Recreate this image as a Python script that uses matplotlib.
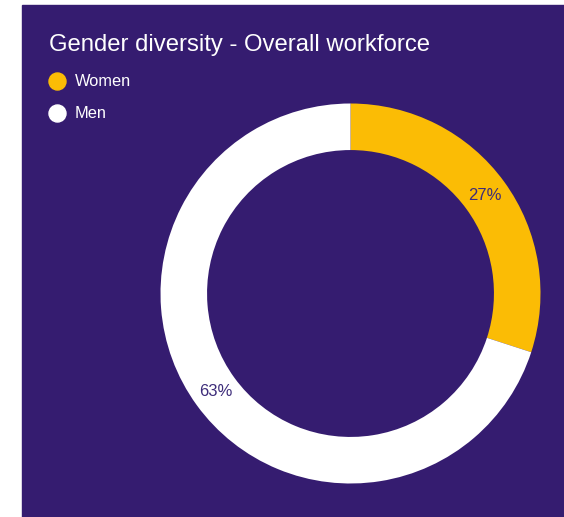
import matplotlib.pyplot as plt
from matplotlib.patches import Rectangle

plt.rcParams['font.family'] = ['Liberation Sans', 'DejaVu Sans']

title = 'Gender diversity - Overall workforce'
categories = ['Women', 'Men']
values = [27, 63]
colors = ['#FBBC05', '#FFFFFF']
bg = '#351C70'
label_color = '#3D2C7A'

W, H = 564, 517
fig = plt.figure(figsize=(W / 100, H / 100), dpi=100, facecolor='white')

# background layer in pixel coords
bgax = fig.add_axes([0, 0, 1, 1])
bgax.set_xlim(0, W)
bgax.set_ylim(H, 0)
bgax.axis('off')
bgax.add_patch(Rectangle((22, 5), W - 22, H - 5, color=bg, zorder=0))
bgax.text(49, 45, title, color='white', fontsize=17.2, va='center', ha='left')
for i, (cat, col) in enumerate(zip(categories, colors)):
    y = 81 + i * 32
    bgax.scatter([57], [y], s=150, color=col, zorder=3)
    bgax.text(75, y, cat, color='white', fontsize=11.8, va='center', ha='left')

# donut
cx, cy, r = 350.5, 293.5, 190
ax = fig.add_axes([(cx - r) / W, (H - cy - r) / H, 2 * r / W, 2 * r / H])
total = sum(values)
wedges, texts, autotexts = ax.pie(
    values, colors=colors, startangle=90, counterclock=False,
    radius=1, wedgeprops=dict(width=0.245, linewidth=0),
    autopct=lambda p: f'{round(p * total / 100)}%', pctdistance=0.875,
    textprops=dict(color=label_color, fontsize=12))
ax.set_xlim(-1, 1)
ax.set_ylim(-1, 1)
ax.set_aspect('equal')
ax.axis('off')

fig.savefig('out.png', dpi=100, facecolor='white')
